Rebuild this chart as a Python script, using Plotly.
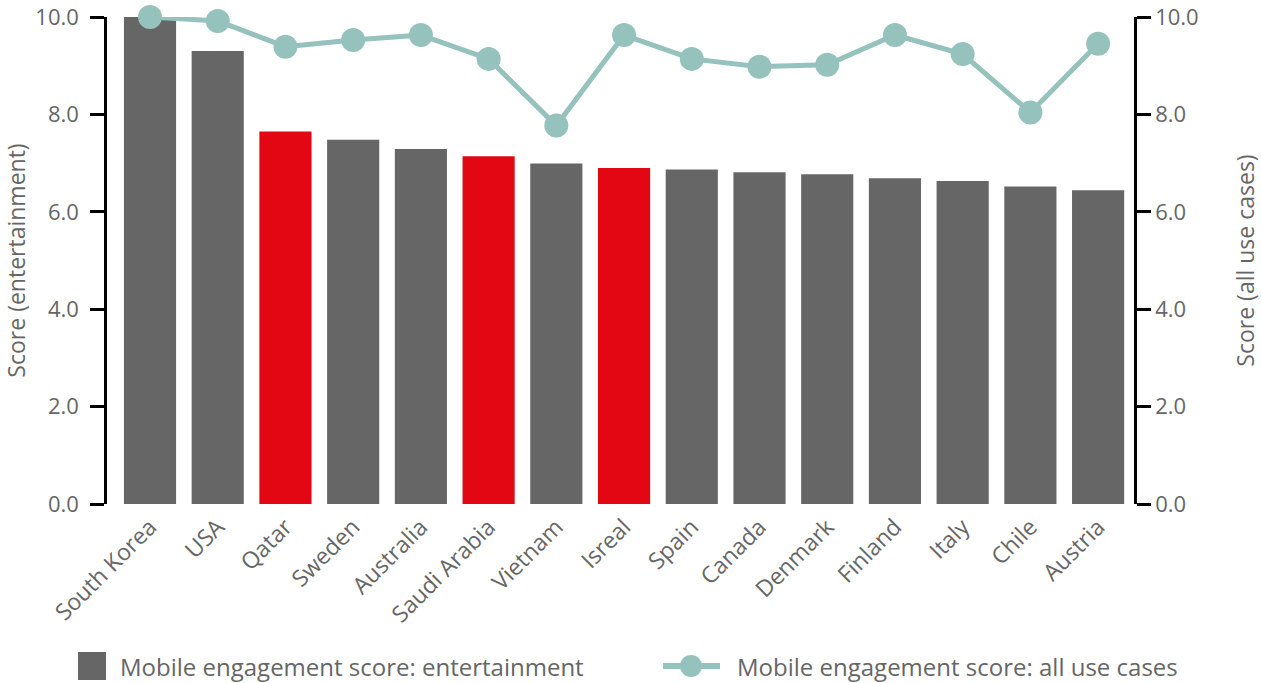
import plotly.graph_objects as go

countries = ["South Korea", "USA", "Qatar", "Sweden", "Australia", "Saudi Arabia",
             "Vietnam", "Isreal", "Spain", "Canada", "Denmark", "Finland",
             "Italy", "Chile", "Austria"]
entertainment = [10.0, 9.30, 7.65, 7.48, 7.29, 7.14, 6.99, 6.90, 6.87, 6.81,
                 6.77, 6.69, 6.63, 6.52, 6.44]
all_use_cases = [10.0, 9.92, 9.39, 9.53, 9.63, 9.14, 7.77, 9.63, 9.14, 8.98,
                 9.02, 9.63, 9.24, 8.04, 9.45]
highlight = ["Qatar", "Saudi Arabia", "Isreal"]
y_ticks = [0, 2, 4, 6, 8, 10]
bar_name = "Mobile engagement score: entertainment"
line_name = "Mobile engagement score: all use cases"

GRAY = "#666666"
RED = "#e30613"
TEAL = "#95c2bd"
FONT = "Open Sans"
FS = 22

# plot area in pixels
L, R, T, B = 107, 127, 17, 179
W, H = 1261, 683
PW, PH = W - L - R, H - T - B


def px_x(x):
    return (x - L) / PW


def px_y(y):
    return (H - B - y) / PH


bar_colors = [RED if c in highlight else GRAY for c in countries]

fig = go.Figure()
fig.add_trace(go.Bar(
    x=countries, y=entertainment, marker=dict(color=bar_colors, line_width=0),
    width=0.77, name=bar_name, yaxis="y", showlegend=False,
))
fig.add_trace(go.Scatter(
    x=countries, y=all_use_cases, mode="lines+markers",
    line=dict(color=TEAL, width=5), marker=dict(color=TEAL, size=24),
    name=line_name, yaxis="y2", cliponaxis=False, showlegend=False,
))

axis_common = dict(
    range=[0, 10], tickvals=y_ticks, ticktext=[f"{v:.1f}" for v in y_ticks],
    showline=True, linecolor="black", linewidth=2.5,
    ticks="outside", ticklen=14, tickwidth=2.5, tickcolor="black",
    showgrid=False, zeroline=False, ticklabeloverflow="allow",
    tickfont=dict(family=FONT, size=FS, color=GRAY),
)

# legend drawn below the plot
ly = px_y(666)
shapes = [
    dict(type="rect", xref="paper", yref="paper",
         x0=px_x(78), x1=px_x(106), y0=px_y(652), y1=px_y(680),
         fillcolor=GRAY, line_width=0),
    dict(type="line", xref="paper", yref="paper",
         x0=px_x(663), x1=px_x(720), y0=ly, y1=ly,
         line=dict(color=TEAL, width=6)),
    dict(type="circle", xref="paper", yref="paper",
         xsizemode="pixel", ysizemode="pixel",
         xanchor=px_x(691), yanchor=ly, x0=-11, x1=11, y0=-11, y1=11,
         fillcolor=TEAL, line_width=0),
]
annotations = [
    dict(text=bar_name, xref="paper", yref="paper", x=px_x(118), y=ly,
         xanchor="left", yanchor="middle", showarrow=False,
         font=dict(family=FONT, size=24, color=GRAY)),
    dict(text=line_name, xref="paper", yref="paper", x=px_x(735), y=ly,
         xanchor="left", yanchor="middle", showarrow=False,
         font=dict(family=FONT, size=24, color=GRAY)),
]

fig.update_layout(
    width=W, height=H,
    margin=dict(l=L, r=R, t=T, b=B, autoexpand=False),
    plot_bgcolor="white", paper_bgcolor="white",
    font=dict(family=FONT, color=GRAY),
    xaxis=dict(
        range=[-0.635, 14.53], tickangle=-45, showline=False, ticks="",
        showgrid=False, tickfont=dict(family=FONT, size=23, color=GRAY),
        ticklabelstandoff=4,
    ),
    yaxis=dict(
        **axis_common, ticklabelstandoff=7,
        title=dict(text="Score (entertainment)", standoff=4,
                   font=dict(family=FONT, size=23, color=GRAY)),
    ),
    yaxis2=dict(
        **axis_common, overlaying="y", side="right",
        title=dict(text="Score (all use cases)", standoff=44,
                   font=dict(family=FONT, size=23, color=GRAY)),
    ),
    shapes=shapes,
    annotations=annotations,
    showlegend=False,
)

fig.write_html("out.html")
